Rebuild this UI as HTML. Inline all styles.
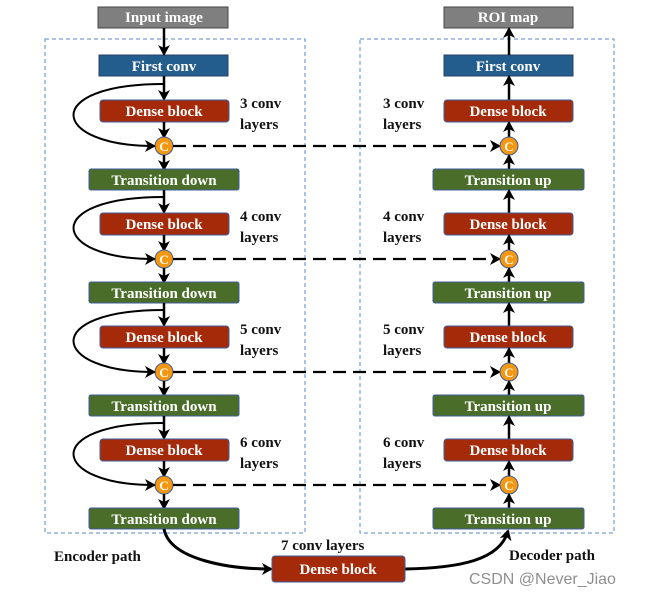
<!DOCTYPE html>
<html><head><meta charset="utf-8"><style>
html,body{margin:0;padding:0;background:#fff}
svg{display:block}
.t{font-family:"Liberation Serif",serif;font-weight:bold;font-size:15px;fill:#fff;text-anchor:middle}
.l{font-family:"Liberation Serif",serif;font-weight:bold;font-size:15px;fill:#111}
.c{font-family:"Liberation Serif",serif;font-weight:bold;font-size:13px;fill:#fff;text-anchor:middle}
.dn{fill:#a52a0a;stroke:#3e5c9a;stroke-width:1}
.tr{fill:#4a6e2a;stroke:#3e5c9a;stroke-width:1}
.bl{fill:#235d8e;stroke:#2a3f66;stroke-width:1}
.gr{fill:#7f7f7f;stroke:#444;stroke-width:1}
.ci{fill:#f5970f;stroke:#3e5c9a;stroke-width:1}
.a{stroke:#000;stroke-width:2.5;fill:none;marker-end:url(#ah)}
.lp{stroke:#000;stroke-width:2;fill:none;marker-end:url(#ah)}
.ds{stroke:#000;stroke-width:2.2;fill:none;stroke-dasharray:13,7;marker-end:url(#ah)}
.bx{fill:none;stroke:#5b8ad6;stroke-width:1;stroke-dasharray:4,3}
</style></head><body>
<svg width="656" height="595" viewBox="0 0 656 595" xmlns="http://www.w3.org/2000/svg">
<defs><marker id="ah" markerWidth="12" markerHeight="12" refX="9" refY="6" orient="auto" markerUnits="userSpaceOnUse"><path d="M0,0 L11,6 L0,12 L3,6 Z" fill="#000"/></marker></defs>
<rect class="bx" x="45" y="39" width="260" height="494"/>
<rect class="bx" x="360" y="39" width="254" height="494"/>
<rect class="gr" x="98" y="7" width="130" height="21"/><text class="t" x="164" y="22">Input image</text>
<rect class="gr" x="444" y="7" width="129" height="21"/><text class="t" x="508" y="22">ROI map</text>
<rect class="bl" x="99" y="55" width="129" height="21"/><text class="t" x="164" y="71">First conv</text>
<rect class="bl" x="444" y="55" width="129" height="21"/><text class="t" x="508" y="71">First conv</text>
<line class="a" x1="164" y1="28" x2="164" y2="54"/>
<line class="a" x1="164" y1="76" x2="164" y2="99"/>
<line class="a" x1="509" y1="55" x2="509" y2="29"/>
<line class="a" x1="509" y1="100" x2="509" y2="77"/>

<g>
<rect class="dn" x="100" y="100" width="129" height="22" rx="3"/><text class="t" x="164" y="116">Dense block</text>
<line class="a" x1="164" y1="122" x2="164" y2="137"/>
<circle class="ci" cx="164" cy="146" r="9"/><text class="c" x="164" y="151">C</text>
<line class="a" x1="164" y1="155" x2="164" y2="169"/>
<rect class="tr" x="89" y="169" width="150" height="21" rx="2"/><text class="t" x="164" y="185">Transition down</text>
<path class="lp" d="M164,84 C40,84 50,146 154,146"/>
<line class="ds" x1="173" y1="146" x2="499" y2="146"/>
<text class="l" x="240" y="108">3 conv</text><text class="l" x="240" y="129">layers</text>
<rect class="dn" x="444" y="100" width="129" height="22" rx="3"/><text class="t" x="508" y="116">Dense block</text>
<line class="a" x1="509" y1="137" x2="509" y2="123"/>
<circle class="ci" cx="509" cy="146" r="9"/><text class="c" x="509" y="151">C</text>
<line class="a" x1="509" y1="169" x2="509" y2="156"/>
<rect class="tr" x="433" y="169" width="151" height="21" rx="2"/><text class="t" x="508" y="185">Transition up</text>
<text class="l" x="383" y="108">3 conv</text><text class="l" x="383" y="129">layers</text>
</g>
<line class="a" x1="164" y1="190" x2="164" y2="212"/>
<line class="a" x1="509" y1="213" x2="509" y2="191"/>
<g transform="translate(0,113)">
<rect class="dn" x="100" y="100" width="129" height="22" rx="3"/><text class="t" x="164" y="116">Dense block</text>
<line class="a" x1="164" y1="122" x2="164" y2="137"/>
<circle class="ci" cx="164" cy="146" r="9"/><text class="c" x="164" y="151">C</text>
<line class="a" x1="164" y1="155" x2="164" y2="169"/>
<rect class="tr" x="89" y="169" width="150" height="21" rx="2"/><text class="t" x="164" y="185">Transition down</text>
<path class="lp" d="M164,84 C40,84 50,146 154,146"/>
<line class="ds" x1="173" y1="146" x2="499" y2="146"/>
<text class="l" x="240" y="108">4 conv</text><text class="l" x="240" y="129">layers</text>
<rect class="dn" x="444" y="100" width="129" height="22" rx="3"/><text class="t" x="508" y="116">Dense block</text>
<line class="a" x1="509" y1="137" x2="509" y2="123"/>
<circle class="ci" cx="509" cy="146" r="9"/><text class="c" x="509" y="151">C</text>
<line class="a" x1="509" y1="169" x2="509" y2="156"/>
<rect class="tr" x="433" y="169" width="151" height="21" rx="2"/><text class="t" x="508" y="185">Transition up</text>
<text class="l" x="383" y="108">4 conv</text><text class="l" x="383" y="129">layers</text>
<line class="a" x1="164" y1="190" x2="164" y2="212"/>
<line class="a" x1="509" y1="213" x2="509" y2="191"/>
</g>
<g transform="translate(0,226)">
<rect class="dn" x="100" y="100" width="129" height="22" rx="3"/><text class="t" x="164" y="116">Dense block</text>
<line class="a" x1="164" y1="122" x2="164" y2="137"/>
<circle class="ci" cx="164" cy="146" r="9"/><text class="c" x="164" y="151">C</text>
<line class="a" x1="164" y1="155" x2="164" y2="169"/>
<rect class="tr" x="89" y="169" width="150" height="21" rx="2"/><text class="t" x="164" y="185">Transition down</text>
<path class="lp" d="M164,84 C40,84 50,146 154,146"/>
<line class="ds" x1="173" y1="146" x2="499" y2="146"/>
<text class="l" x="240" y="108">5 conv</text><text class="l" x="240" y="129">layers</text>
<rect class="dn" x="444" y="100" width="129" height="22" rx="3"/><text class="t" x="508" y="116">Dense block</text>
<line class="a" x1="509" y1="137" x2="509" y2="123"/>
<circle class="ci" cx="509" cy="146" r="9"/><text class="c" x="509" y="151">C</text>
<line class="a" x1="509" y1="169" x2="509" y2="156"/>
<rect class="tr" x="433" y="169" width="151" height="21" rx="2"/><text class="t" x="508" y="185">Transition up</text>
<text class="l" x="383" y="108">5 conv</text><text class="l" x="383" y="129">layers</text>
<line class="a" x1="164" y1="190" x2="164" y2="212"/>
<line class="a" x1="509" y1="213" x2="509" y2="191"/>
</g>
<g transform="translate(0,339)">
<rect class="dn" x="100" y="100" width="129" height="22" rx="3"/><text class="t" x="164" y="116">Dense block</text>
<line class="a" x1="164" y1="122" x2="164" y2="137"/>
<circle class="ci" cx="164" cy="146" r="9"/><text class="c" x="164" y="151">C</text>
<line class="a" x1="164" y1="155" x2="164" y2="169"/>
<rect class="tr" x="89" y="169" width="150" height="21" rx="2"/><text class="t" x="164" y="185">Transition down</text>
<path class="lp" d="M164,84 C40,84 50,146 154,146"/>
<line class="ds" x1="173" y1="146" x2="499" y2="146"/>
<text class="l" x="240" y="108">6 conv</text><text class="l" x="240" y="129">layers</text>
<rect class="dn" x="444" y="100" width="129" height="22" rx="3"/><text class="t" x="508" y="116">Dense block</text>
<line class="a" x1="509" y1="137" x2="509" y2="123"/>
<circle class="ci" cx="509" cy="146" r="9"/><text class="c" x="509" y="151">C</text>
<line class="a" x1="509" y1="169" x2="509" y2="156"/>
<rect class="tr" x="433" y="169" width="151" height="21" rx="2"/><text class="t" x="508" y="185">Transition up</text>
<text class="l" x="383" y="108">6 conv</text><text class="l" x="383" y="129">layers</text>
</g>
<path class="a" style="stroke-width:3" d="M164,529 C170,560 230,569 271,569"/>
<path class="a" style="stroke-width:3" d="M405,569 C460,568 500,560 508,531"/>
<rect class="dn" x="272" y="556" width="133" height="26" rx="3"/><text class="t" x="338" y="574">Dense block</text>
<text class="l" x="281" y="550">7 conv layers</text>
<text class="l" x="54" y="561">Encoder path</text>
<text class="l" x="509" y="560">Decoder path</text>
<text x="469" y="584" style="font-family:'Liberation Sans',sans-serif;font-size:16px;fill:#8f8f8f">CSDN @Never_Jiao</text>
</svg>
</body></html>
